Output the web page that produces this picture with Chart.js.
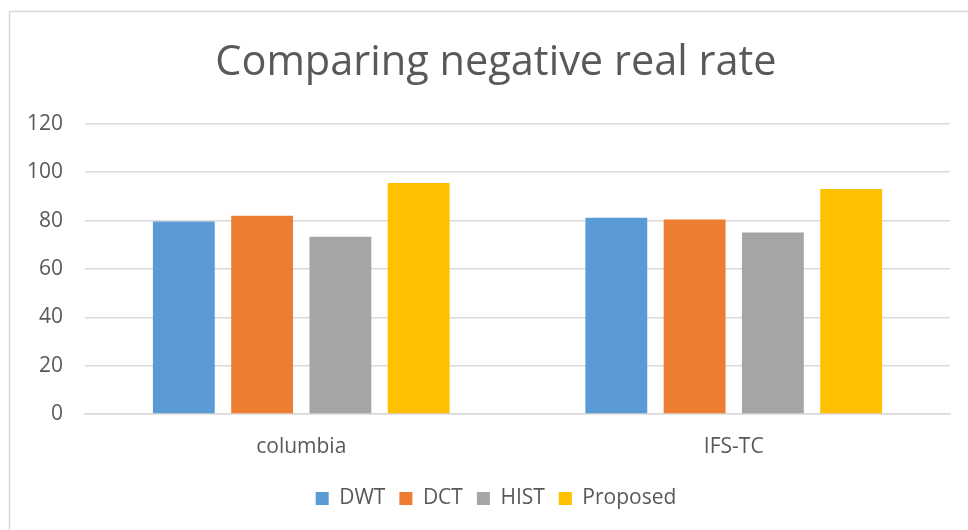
<!DOCTYPE html>
<html>
<head>
<meta charset="utf-8">
<script src="https://cdn.jsdelivr.net/npm/chart.js@4.4.0/dist/chart.umd.min.js"></script>
<style>
  html, body { margin: 0; padding: 0; background: #ffffff; }
  #wrap { width: 968px; height: 530px; position: relative; }
</style>
</head>
<body>
<div id="wrap"><canvas id="c" width="968" height="530"></canvas></div>
<script>
const categories = ["columbia", "IFS-TC"];
const dwt = [79.6, 81.2];
const dct = [82.0, 80.4];
const hist = [73.3, 75.1];
const proposed = [95.5, 93.0];
const yTicks = [0, 20, 40, 60, 80, 100, 120];

const FONT = "'Open Sans', 'Liberation Sans', sans-serif";
const TEXT = "#595959";

const borderPlugin = {
  id: 'outerBorder',
  beforeDraw(chart) {
    // The original chart frame extends past the right edge of the picture,
    // so its title and legend are centred a little right of the canvas centre.
    const shift = 16;
    if (chart.titleBlock) { chart.titleBlock.left += shift; chart.titleBlock.right += shift; }
    if (chart.legend) { chart.legend.left += shift; chart.legend.right += shift; chart.legend.adjustHitBoxes(); }
    const ctx = chart.ctx;
    ctx.save();
    ctx.fillStyle = '#ffffff';
    ctx.fillRect(0, 0, chart.width, chart.height);
    ctx.strokeStyle = '#D9D9D9';
    ctx.lineWidth = 1.5;
    ctx.strokeRect(9.5, 11.5, chart.width + 20, chart.height + 20);
    ctx.restore();
  }
};

new Chart(document.getElementById('c'), {
  type: 'bar',
  data: {
    labels: categories,
    datasets: [
      { label: 'DWT', data: dwt, backgroundColor: '#5B9BD5' },
      { label: 'DCT', data: dct, backgroundColor: '#ED7D31' },
      { label: 'HIST', data: hist, backgroundColor: '#A5A5A5' },
      { label: 'Proposed', data: proposed, backgroundColor: '#FFC000' }
    ]
  },
  options: {
    responsive: false,
    animation: false,
    devicePixelRatio: 1,
    layout: { padding: { left: 10, right: 18, top: 11, bottom: 11 } },
    datasets: { bar: { categoryPercentage: 0.724, barPercentage: 0.79 } },
    plugins: {
      title: {
        display: true,
        text: 'Comparing negative real rate',
        color: TEXT,
        font: { family: FONT, size: 41.5, weight: '400' },
        padding: { top: 27, bottom: 36 }
      },
      legend: {
        position: 'bottom',
        labels: {
          color: TEXT,
          font: { family: FONT, size: 21 },
          boxWidth: 13,
          boxHeight: 13,
          padding: 14
        }
      },
      tooltip: { enabled: false }
    },
    scales: {
      x: {
        grid: { display: false, drawTicks: false },
        border: { display: true, color: '#D9D9D9', width: 1.5 },
        ticks: { color: TEXT, font: { family: FONT, size: 21 }, padding: 20 },
        afterFit(scale) { scale.height = 60; }
      },
      y: {
        min: 0, max: 120,
        afterBuildTicks(scale) { scale.ticks = yTicks.map(v => ({ value: v })); },
        grid: { color: '#D9D9D9', lineWidth: 1.5, drawTicks: false },
        border: { display: false },
        ticks: { color: TEXT, font: { family: FONT, size: 21 }, padding: 22 },
        afterFit(scale) { scale.width = 75; }
      }
    }
  },
  plugins: [borderPlugin]
});
</script>
</body>
</html>
